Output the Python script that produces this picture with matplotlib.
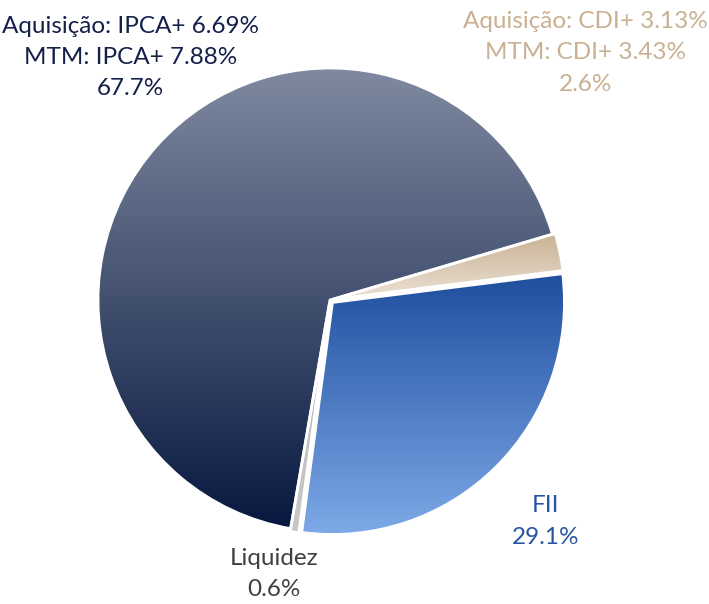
import numpy as np
import matplotlib.pyplot as plt
from matplotlib.colors import LinearSegmentedColormap

plt.rcParams['font.family'] = ['Lato', 'DejaVu Sans']

# dados (ordem horaria a partir do CDI)
nomes = ['CDI', 'FII', 'Liquidez', 'IPCA']
valores = [2.6, 29.1, 0.6, 67.7]
rotulos = ['Aquisição: CDI+ 3.13%\nMTM: CDI+ 3.43%\n2.6%',
           'FII\n29.1%',
           'Liquidez\n0.6%',
           'Aquisição: IPCA+ 6.69%\nMTM: IPCA+ 7.88%\n67.7%']
cor_topo = ['#c9b294', '#1f4e9e', '#b8b8b8', '#808ba1']
cor_base = ['#ebe1d4', '#7eaae8', '#c8c8c8', '#07173f']
cor_texto = ['#c9b092', '#2a55a5', '#404040', '#14204a']
pos_rotulo = [(1.10, 1.065), (0.93, -0.955), (-0.24, -1.18), (-0.86, 1.045)]

fig = plt.figure(figsize=(7.09, 6.04), dpi=100)
ax = fig.add_axes([0, 0, 1, 1])

wedges, _ = ax.pie(valores, startangle=16.5, counterclock=False,
                   explode=[0.012, 0.015, 0.012, 0.0],
                   wedgeprops=dict(edgecolor='white', linewidth=2))

for w, c1, c2 in zip(wedges, cor_topo, cor_base):
    w.set_facecolor('none')
    path = w.get_path()
    v = path.vertices
    x0, x1 = v[:, 0].min(), v[:, 0].max()
    y0, y1 = v[:, 1].min(), v[:, 1].max()
    cmap = LinearSegmentedColormap.from_list('g', [c2, c1])
    grad = np.linspace(0, 1, 256).reshape(-1, 1)
    im = ax.imshow(grad, cmap=cmap, origin='lower', aspect='auto',
                   extent=(x0, x1, y0, y1), zorder=w.get_zorder() - 0.1)
    im.set_clip_path(w)

for txt, (x, y), c in zip(rotulos, pos_rotulo, cor_texto):
    ax.text(x, y, txt, ha='center', va='center', color=c, fontsize=17.5,
            linespacing=1.6)

ax.set_xlim(-330 / 232, (709 - 330) / 232)
ax.set_ylim(-304 / 232, 300 / 232)
ax.set_aspect('equal')
ax.axis('off')

fig.savefig('out.png', dpi=100)
